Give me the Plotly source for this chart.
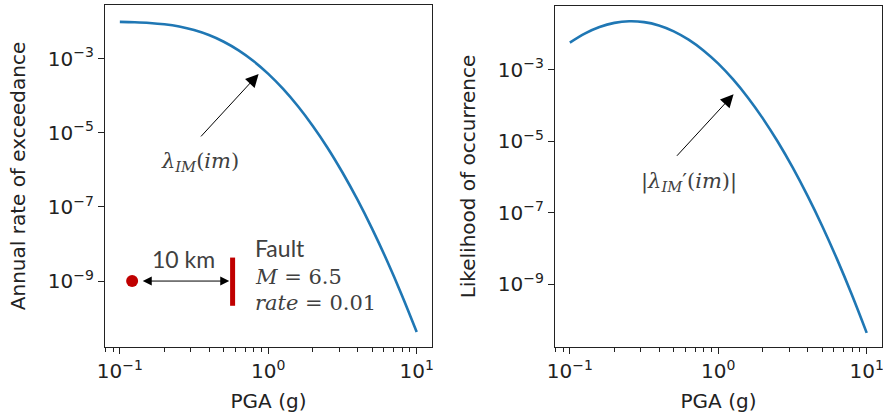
import plotly.graph_objects as go

# PGA values (g)
pga = [0.1, 0.1259, 0.1585, 0.1995, 0.2512, 0.3162, 0.3981, 0.5012, 0.631, 0.7943,
       1.0, 1.259, 1.585, 1.995, 2.512, 3.162, 3.981, 5.012, 6.31, 7.943, 10.0]
# Annual rate of exceedance (left panel)
rate_exceed = [9.87e-3, 9.67e-3, 9.25e-3, 8.50e-3, 7.38e-3, 5.94e-3, 4.35e-3, 2.87e-3, 1.68e-3, 8.66e-4,
               3.90e-4, 1.53e-4, 5.20e-5, 1.53e-5, 3.91e-6, 8.49e-7, 1.59e-7, 2.56e-8, 3.53e-9, 4.16e-10, 4.21e-11]
# Likelihood of occurrence (right panel)
likelihood = [5.70e-3, 1.02e-2, 1.56e-2, 2.03e-2, 2.25e-2, 2.13e-2, 1.72e-2, 1.18e-2, 6.90e-3, 3.45e-3,
              1.47e-3, 5.31e-4, 1.64e-4, 4.33e-5, 9.72e-6, 1.86e-6, 3.02e-7, 4.22e-8, 4.99e-9, 5.03e-10, 4.32e-11]

x_tickvals = [0.1, 1, 10]
x_ticktext = ["10<sup>−1</sup>", "10<sup>0</sup>", "10<sup>1</sup>"]
x_minor = [0.08, 0.09, 0.2, 0.3, 0.4, 0.5, 0.6, 0.7, 0.8, 0.9, 2, 3, 4, 5, 6, 7, 8, 9]
y_tickvals = [1e-3, 1e-5, 1e-7, 1e-9]
y_ticktext = ["10<sup>−3</sup>", "10<sup>−5</sup>", "10<sup>−7</sup>", "10<sup>−9</sup>"]

# site / fault inset (left panel)
site_x = [0.121]
site_y = [1e-9]
fault_x = [0.575, 0.575]
fault_y = [2.15e-10, 4.3e-9]

BLUE = "#1f77b4"
RED = "#c00000"
TXT = "#222222"
GRAY = "#404040"

fig = go.Figure()
fig.add_trace(go.Scatter(x=pga, y=rate_exceed, mode="lines", line=dict(color=BLUE, width=2.6, shape="spline"),
                         xaxis="x", yaxis="y", showlegend=False))
fig.add_trace(go.Scatter(x=pga, y=likelihood, mode="lines", line=dict(color=BLUE, width=2.6, shape="spline"),
                         xaxis="x2", yaxis="y2", showlegend=False))
fig.add_trace(go.Scatter(x=site_x, y=site_y, mode="markers", marker=dict(color=RED, size=12),
                         xaxis="x", yaxis="y", showlegend=False))
fig.add_trace(go.Scatter(x=fault_x, y=fault_y, mode="lines", line=dict(color=RED, width=5),
                         xaxis="x", yaxis="y", showlegend=False))

tickfont = dict(family="DejaVu Sans", size=20, color=TXT)
axcommon = dict(type="log", showgrid=False, zeroline=False, showline=True, linecolor="#222222", linewidth=1.3,
                mirror=True, ticks="outside", ticklen=6, tickwidth=1.2, tickcolor="#222222", tickfont=tickfont,
                automargin=False, ticklabeloverflow="allow")

xax = dict(axcommon, range=[-1.1, 1.103], tickvals=x_tickvals, ticktext=x_ticktext,
           minor=dict(tickvals=x_minor, ticks="outside", ticklen=3.5, tickwidth=1, tickcolor="#222222"),
           title=dict(text="PGA (g)", font=dict(family="DejaVu Sans", size=20, color=TXT), standoff=11))

fig.update_layout(
    width=883, height=417, margin=dict(l=0, r=0, t=0, b=0, autoexpand=False),
    paper_bgcolor="white", plot_bgcolor="white", showlegend=False,
    xaxis=dict(xax, domain=[105/883, 432/883], anchor="y"),
    xaxis2=dict(xax, domain=[555/883, 882/883], anchor="y2"),
    yaxis=dict(axcommon, domain=[70/417, 412/417], anchor="x", range=[-10.78, -1.55],
               tickvals=y_tickvals, ticktext=y_ticktext,
               title=dict(text="Annual rate of exceedance", font=dict(family="DejaVu Sans", size=20, color=TXT), standoff=16)),
    yaxis2=dict(axcommon, domain=[70/417, 411/417], anchor="x2", range=[-10.76, -1.22],
                tickvals=y_tickvals, ticktext=y_ticktext,
                title=dict(text="Likelihood of occurrence", font=dict(family="DejaVu Sans", size=20, color=TXT), standoff=16)),
)

serif = dict(family="DejaVu Serif", size=21, color=GRAY)
sans = dict(family="Lato", size=23, color=GRAY)

annots = [
    # arrow to left curve
    dict(xref="x", yref="y", x=-0.065, y=-3.41, ax=-59, ay=64, text="", showarrow=True,
         arrowhead=2, arrowsize=2.6, arrowwidth=1, arrowcolor="black", standoff=0, startstandoff=0),
    dict(xref="x", yref="y", x=-0.457, y=-5.78, text="<i>λ<sub>IM</sub></i>(<i>im</i>)", showarrow=False,
         font=serif, xanchor="center", yanchor="middle"),
    # arrow to right curve
    dict(xref="x2", yref="y2", x=0.103, y=-3.69, ax=-58, ay=63, text="", showarrow=True,
         arrowhead=2, arrowsize=2.6, arrowwidth=1, arrowcolor="black", standoff=0, startstandoff=0),
    dict(xref="x2", yref="y2", x=-0.2, y=-6.15, text="|<i>λ<sub>IM</sub></i>′(<i>im</i>)|", showarrow=False,
         font=serif, xanchor="center", yanchor="middle"),
    # distance arrow
    dict(xref="x", yref="y", x=-0.263, y=-9, ax=-88, ay=0, text="", showarrow=True, arrowside="end+start",
         arrowhead=2, arrowsize=1.8, arrowwidth=1, arrowcolor="black", standoff=0, startstandoff=0),
    dict(xref="x", yref="y", x=-0.574, y=-8.41, text="10 km", showarrow=False, font=sans,
         xanchor="center", yanchor="middle"),
    dict(xref="x", yref="y", x=-0.106, y=-8.10, text="Fault", showarrow=False, font=sans,
         xanchor="left", yanchor="middle"),
    dict(xref="x", yref="y", x=-0.106, y=-8.88, text="<i>M</i> = 6.5", showarrow=False, font=serif,
         xanchor="left", yanchor="middle"),
    dict(xref="x", yref="y", x=-0.106, y=-9.60, text="<i>rate</i> = 0.01", showarrow=False, font=serif,
         xanchor="left", yanchor="middle"),
]
fig.update_layout(annotations=annots)

fig.write_html("out.html")
